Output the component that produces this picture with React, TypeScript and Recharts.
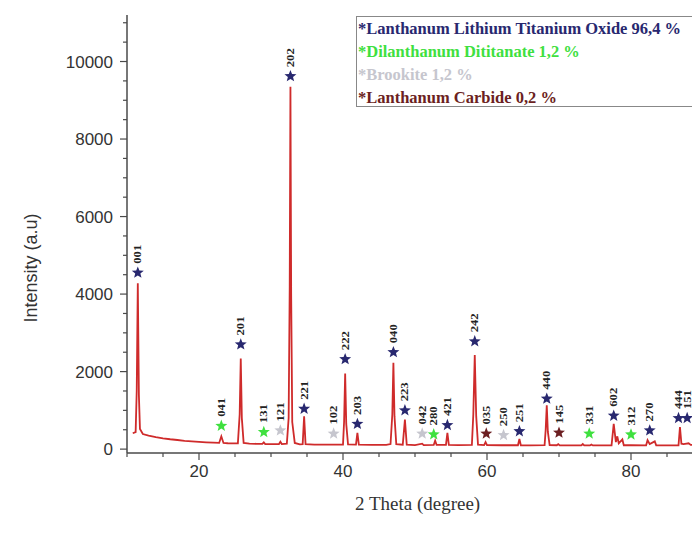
import { ComposedChart, Line, Scatter, XAxis, YAxis } from 'recharts';

// XRD profile (2θ in degrees, intensity in a.u.)
const twoTheta = [
  10.8, 11.2, 11.35, 11.5, 11.65, 11.8, 12.2, 13, 14, 15, 16, 17, 18, 19, 20, 21, 22, 22.8, 23.1, 23.4,
  24, 25.4, 25.65, 25.8, 25.95, 26.2, 27, 28, 28.8, 29.0, 29.2, 30, 31.1, 31.3, 31.5, 32.2, 32.45, 32.6,
  32.7, 32.8, 32.95, 33.3, 34, 34.4, 34.6, 34.8, 36, 38, 38.7, 40, 40.15, 40.3, 40.45, 40.7, 41.8, 42.0,
  42.2, 44, 46, 46.6, 46.85, 47.0, 47.15, 47.4, 48.3, 48.6, 48.85, 50, 51.0, 51.2, 52.6, 52.8, 53.0, 54.3,
  54.5, 54.7, 56, 57.9, 58.1, 58.3, 58.5, 58.75, 59.6, 59.8, 60.0, 62, 64.3, 64.5, 64.7, 66, 68.0, 68.15,
  68.3, 68.45, 68.7, 69.7, 69.9, 70.1, 73.1, 73.3, 73.5, 74.3, 74.5, 74.7, 77.3, 77.6, 77.9, 78.1, 78.3,
  78.8, 79.0, 80, 82.1, 82.3, 82.6, 83.3, 83.5, 86.6, 86.8, 87.0, 87.3, 88.0, 88.3, 90,
];
const intensity = [
  410, 440, 1500, 4280, 1400, 520, 390, 350, 310, 280, 255, 235, 215, 200, 188, 176, 166, 160, 330, 158,
  152, 150, 900, 2340, 800, 160, 142, 136, 134, 175, 132, 128, 128, 190, 130, 140, 800, 4200,
  9350, 4000, 700, 160, 125, 128, 850, 130, 118, 114, 118, 115, 700, 1950, 650, 120, 115, 420,
  115, 108, 108, 130, 900, 2230, 850, 130, 115, 760, 115, 105, 140, 105, 108, 220, 108, 108,
  420, 108, 102, 110, 900, 2430, 850, 115, 105, 180, 104, 100, 100, 260, 100, 98, 105, 500,
  1130, 450, 105, 100, 130, 98, 96, 130, 96, 96, 120, 96, 100, 650, 180, 330, 150,
  250, 100, 100, 98, 230, 130, 200, 98, 100, 570, 140, 130, 150, 110, 100,
];

// phase markers: position, height of the star, Miller index
const lltoPos = [11.5, 25.8, 32.7, 34.6, 40.3, 42.0, 47.0, 48.6, 54.5, 58.3, 64.5, 68.3, 77.6, 82.6, 86.6, 87.8];
const lltoY = [4550, 2700, 9620, 1040, 2320, 650, 2500, 1000, 620, 2780, 460, 1300, 860, 480, 800, 800];
const lltoHkl = ['001', '201', '202', '221', '222', '203', '040', '223', '421', '242', '251', '440', '602', '270', '444', '151'];

const dititPos = [23.1, 29.0, 52.6, 74.2, 80.0];
const dititY = [600, 440, 380, 400, 376];
const dititHkl = ['041', '131', '280', '331', '312'];

const brookPos = [31.3, 38.7, 51.0, 62.3];
const brookY = [480, 400, 400, 360];
const brookHkl = ['121', '102', '042', '250'];

const carbPos = [59.9, 70.0];
const carbY = [400, 424];
const carbHkl = ['035', '145'];

const xTicks = [10, 15, 20, 25, 30, 35, 40, 45, 50, 55, 60, 65, 70, 75, 80, 85, 90];
const yTicks = [0, 500, 1000, 1500, 2000, 2500, 3000, 3500, 4000, 4500, 5000, 5500, 6000, 6500, 7000, 7500, 8000, 8500, 9000, 9500, 10000, 10500, 11000];

const NAVY = '#28286f';
const GREEN = '#3fe03f';
const GREY = '#c6c6ce';
const MAROON = '#6c1f22';
const AXIS = '#4a4a4a';

const profile = twoTheta.map((x, i) => ({ x, y: intensity[i] }));
const toMarks = (pos: number[], ys: number[], hkl: string[]) => pos.map((x, i) => ({ x, y: ys[i], hkl: hkl[i] }));

const starPoints = (cx: number, cy: number, ro: number, ri: number) => {
  const pts: string[] = [];
  for (let i = 0; i < 10; i++) {
    const r = i % 2 === 0 ? ro : ri;
    const a = -Math.PI / 2 + (i * Math.PI) / 5;
    pts.push(`${cx + r * Math.cos(a)},${cy + r * Math.sin(a)}`);
  }
  return pts.join(' ');
};

const makeStar = (color: string) => (props: any) => {
  const { cx, cy, payload } = props;
  if (cx == null || cy == null) return <g />;
  return (
    <g>
      <polygon points={starPoints(cx, cy, 6.3, 2.7)} fill={color} />
      <text
        transform={`translate(${cx + 3.5},${cy - 9}) rotate(-90)`}
        fontFamily="'Liberation Serif', serif"
        fontWeight="bold"
        fontSize={11}
        textLength={19}
        lengthAdjust="spacingAndGlyphs"
        fill="#222"
      >
        {payload.hkl}
      </text>
    </g>
  );
};

const XTick = (props: any) => {
  const { x, y, payload } = props;
  const v = payload.value;
  const major = v % 20 === 0;
  return (
    <g>
      <line x1={x} x2={x} y1={y} y2={y + (major ? 7 : 4)} stroke={AXIS} strokeWidth={1.2} />
      {major && (
        <text x={x} y={y + 24} textAnchor="middle" fontFamily="'Liberation Sans', Arial" fontSize={17} fill="#333">
          {v}
        </text>
      )}
    </g>
  );
};

const YTick = (props: any) => {
  const { x, y, payload } = props;
  const v = payload.value;
  const major = v % 2000 === 0;
  return (
    <g>
      <line x1={x - (major ? 7 : 4)} x2={x} y1={y} y2={y} stroke={AXIS} strokeWidth={1.2} />
      {major && (
        <text x={x - 14} y={y + 6} textAnchor="end" fontFamily="'Liberation Sans', Arial" fontSize={17} fill="#333">
          {v}
        </text>
      )}
    </g>
  );
};

const legendRows = [
  { text: '*Lanthanum Lithium Titanium Oxide 96,4 %', color: NAVY },
  { text: '*Dilanthanum Dititanate 1,2 %', color: GREEN },
  { text: '*Brookite 1,2 %', color: GREY },
  { text: '*Lanthanum Carbide 0,2 %', color: MAROON },
];

export default function App() {
  return (
    <div style={{ position: 'fixed', left: 0, top: 0, width: 692, height: 548, overflow: 'hidden', background: '#fff' }}>
      <ComposedChart width={720} height={548} margin={{ top: 15, right: 17, bottom: 0, left: 0 }}>
        <XAxis xAxisId="top" orientation="top" type="number" dataKey="x" domain={[10, 90]} allowDataOverflow height={0} tick={false} tickLine={false} axisLine={{ stroke: AXIS, strokeWidth: 1.5 }} />
        <XAxis
          type="number"
          dataKey="x"
          domain={[10, 90]}
          allowDataOverflow
          ticks={xTicks}
          interval={0}
          height={95}
          tickSize={0}
          tickMargin={0}
          tick={<XTick />}
          axisLine={{ stroke: AXIS, strokeWidth: 1.5 }}
        />
        <YAxis
          type="number"
          dataKey="y"
          domain={[-100, 11200]}
          allowDataOverflow
          ticks={yTicks}
          interval={0}
          width={127}
          tickSize={0}
          tickMargin={0}
          tick={<YTick />}
          axisLine={{ stroke: AXIS, strokeWidth: 1.5 }}
        />
        <Line data={profile} dataKey="y" type="linear" stroke="#cf2b2b" strokeWidth={1.8} dot={false} isAnimationActive={false} />
        <Scatter data={toMarks(lltoPos, lltoY, lltoHkl)} dataKey="y" shape={makeStar(NAVY)} isAnimationActive={false} />
        <Scatter data={toMarks(dititPos, dititY, dititHkl)} dataKey="y" shape={makeStar(GREEN)} isAnimationActive={false} />
        <Scatter data={toMarks(brookPos, brookY, brookHkl)} dataKey="y" shape={makeStar(GREY)} isAnimationActive={false} />
        <Scatter data={toMarks(carbPos, carbY, carbHkl)} dataKey="y" shape={makeStar(MAROON)} isAnimationActive={false} />
      </ComposedChart>

      {/* axis titles */}
      <div style={{ position: 'absolute', left: 355, top: 493, fontFamily: "'Liberation Serif', serif", fontSize: 19, color: '#333', whiteSpace: 'nowrap' }}>
        2 Theta (degree)
      </div>
      <div style={{ position: 'absolute', left: 31, top: 268, transform: 'translate(-50%, -50%) rotate(-90deg)', fontFamily: "'Liberation Sans', Arial", fontSize: 18, color: '#333', whiteSpace: 'nowrap' }}>
        Intensity (a.u)
      </div>

      {/* phase legend */}
      <div style={{ position: 'absolute', left: 356, top: 16, width: 360, height: 91, border: '1px solid #888', background: '#fff', boxSizing: 'border-box', padding: '0 0 0 1px' }}>
        {legendRows.map((r) => (
          <div key={r.text} style={{ fontFamily: "'Liberation Serif', serif", fontWeight: 'bold', fontSize: 16.5, lineHeight: '23px', color: r.color, whiteSpace: 'nowrap' }}>
            {r.text}
          </div>
        ))}
      </div>
    </div>
  );
}
